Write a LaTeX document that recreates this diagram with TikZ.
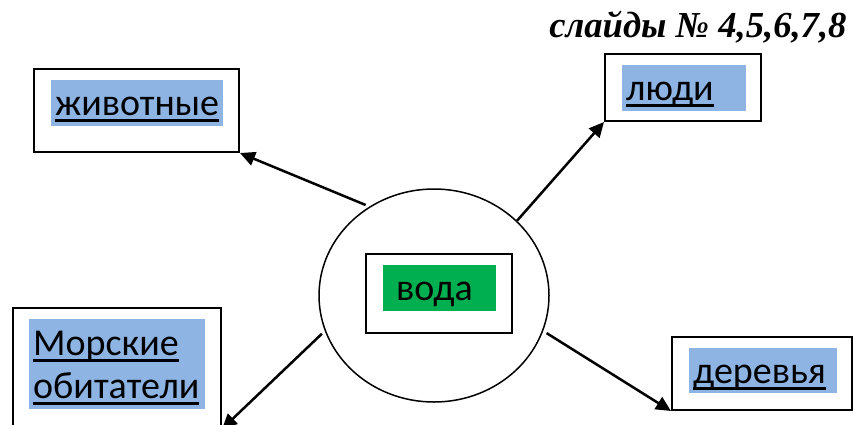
\documentclass[tikz,border=0pt]{standalone}
\usepackage{fontspec}
\setmainfont{Carlito}
\newfontfamily\slidefont{Liberation Serif}
\usetikzlibrary{arrows.meta}
\usetikzlibrary{shapes.geometric}
\definecolor{linkblue}{RGB}{141,180,226}
\definecolor{watergreen}{RGB}{0,176,80}
\newcommand\labelsize{\fontsize{38}{43}\selectfont}
\newcommand\lnk[1]{\leavevmode\setbox0\hbox{#1}\rlap{\vrule height -4pt depth 7pt width \wd0}\box0}
\tikzstyle{frame} = [rectangle, draw=black, line width=2pt, inner sep=0pt]
\tikzstyle{link} = [rectangle, fill=linkblue, inner xsep=4pt, inner ysep=0pt, text height=35pt, text depth=11pt, align=left, font=\labelsize]
\tikzstyle{arrow} = [line width=2.5pt, -{Triangle[length=15pt,width=14pt]}]

\begin{document}
\begin{tikzpicture}[x=1pt, y=-1pt]
	    \useasboundingbox (0,0) rectangle (853,424);

	    \node[ellipse, draw, line width=1.5pt, minimum width=230pt, minimum height=213pt, inner sep=0pt] (water) at (434,295.5) {};
	    \node[frame, minimum width=146pt, minimum height=79pt] (waterbox) at (439,293.5) {};
	    \node[link, fill=watergreen, anchor=base west, inner xsep=13pt, text width=87pt] (watertext) at (383,300) {вода};

	    \node[frame, minimum width=205pt, minimum height=83pt] (animals) at (136.5,110.5) {};
	    \node[frame, minimum width=156pt, minimum height=67pt] (people) at (683,87.5) {};
	    \node[frame, minimum width=208pt, minimum height=120pt] (sea) at (117,368) {};
	    \node[frame, minimum width=180pt, minimum height=73pt] (trees) at (762,373.5) {};

	    \node[link, anchor=base west, text width=164pt] (animalstext) at (51,115) {\lnk{животные}};
	    \node[link, anchor=base west, text width=116pt] (peopletext) at (622,100) {\lnk{люди}};
	    \node[link, anchor=base west, text width=168pt, text height=36pt, text depth=54pt] (seatext) at (29,355) {\lnk{Морские}\\\lnk{обитатели}};
	    \node[link, anchor=base west, text width=140pt, text depth=10pt] (treestext) at (689,383) {\lnk{деревья}};

	    \draw[arrow, shorten <=4pt] (water.126) -- (animals.south east);
	    \draw[arrow] (water.42) -- (people.south west);
	    \draw[arrow, shorten <=4pt] (water.198) -- (sea.south east);
	    \draw[arrow, shorten <=4pt] (water.-18) -- (trees.south west);

	    \node[anchor=base east, font=\slidefont\bfseries\itshape\fontsize{36.6}{38}\selectfont] (slides) at (850,37) {слайды № 4,5,6,7,8};
	\end{tikzpicture}
\end{document}
